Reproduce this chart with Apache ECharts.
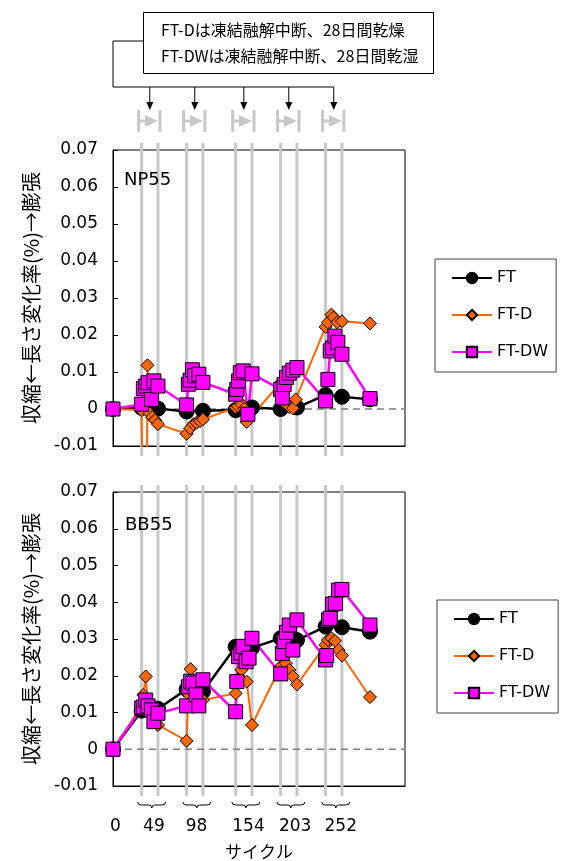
<!DOCTYPE html>
<html>
<head>
<meta charset="utf-8">
<script src="https://cdn.jsdelivr.net/npm/echarts/dist/echarts.min.js"></script>
<style>
  html, body { margin: 0; padding: 0; background: #fff; }
  #main { width: 563px; height: 861px; }
</style>
</head>
<body>
<div id="main"></div>
<script>
// 乾燥期間 (day)
var dryStart = [49, 126, 210, 287, 364];
var dryEnd = [77, 154, 238, 315, 392];

// x軸ラベル
var xLabelDays = [4, 70, 143, 232, 312, 390];
var xLabels = ['0', '49', '98', '154', '203', '252'];

// NP55
var npFT = [[0, 0], [49, 0.0003], [77, 0.0001], [126, -0.0007], [154, -0.0005], [210, -0.0003], [238, 0.0004],
  [287, 0], [315, 0.0004], [364, 0.0038], [392, 0.0033], [440, 0.0026]];
var npFTD = [[0, 0], [49, -0.0003], [56, -0.1], [59, 0.0118], [63, -0.0012], [67, -0.0022], [72, -0.003], [77, -0.0041],
  [126, -0.0067], [132, -0.0052], [138, -0.0041], [143, -0.0037], [149, -0.0033], [154, -0.0028],
  [210, 0.0004], [214, 0.0008], [220, 0.0013], [225, 0.0001], [229, -0.0035],
  [287, 0.0071], [292, 0.0022], [297, 0.0011], [302, 0.0005], [308, 0.0002], [313, 0.0026],
  [364, 0.0222], [368, 0.0234], [374, 0.0255], [378, 0.0247], [384, 0.0234], [392, 0.0237], [440, 0.0231]];
var npFTDW = [[0, 0], [49, 0.0013], [52, 0.0055], [56, 0.0062], [60, 0.0071], [66, 0.0026], [70, 0.0076], [77, 0.0062],
  [126, 0.0011], [129, 0.0067], [132, 0.0078], [136, 0.0106], [140, 0.009], [147, 0.0094], [154, 0.0072],
  [210, 0.004], [212, 0.0053], [215, 0.0076], [218, 0.0098], [223, 0.0103], [231, -0.0014], [238, 0.0095],
  [287, 0.0053], [290, 0.003], [293, 0.0066], [297, 0.0085], [302, 0.0097], [308, 0.0105], [315, 0.0112],
  [364, 0.0022], [368, 0.008], [372, 0.0157], [376, 0.0165], [380, 0.0197], [385, 0.018], [392, 0.0148], [440, 0.0028]];

// BB55
var bbFT = [[0, 0], [49, 0.0105], [77, 0.011], [126, 0.0163], [154, 0.0157], [210, 0.0279], [238, 0.0276],
  [287, 0.0302], [315, 0.0297], [364, 0.0334], [392, 0.0332], [440, 0.032]];
var bbFTD = [[0, 0], [49, 0.0118], [52, 0.0148], [56, 0.0198], [60, 0.012], [66, 0.0105], [72, 0.009], [77, 0.0066],
  [126, 0.0023], [129, 0.015], [133, 0.0218], [138, 0.0175], [143, 0.016], [149, 0.014], [154, 0.0134],
  [210, 0.0152], [214, 0.019], [220, 0.0216], [229, 0.0184], [238, 0.0066],
  [287, 0.0225], [291, 0.0248], [296, 0.0234], [302, 0.0216], [308, 0.0198], [315, 0.0176],
  [364, 0.0284], [368, 0.0297], [374, 0.0302], [380, 0.0295], [386, 0.027], [392, 0.0255], [440, 0.0142]];
var bbFTDW = [[0, 0], [49, 0.0112], [52, 0.0115], [56, 0.0134], [60, 0.0118], [66, 0.0107], [70, 0.0075], [77, 0.0098],
  [126, 0.0118], [129, 0.017], [133, 0.0185], [137, 0.018], [142, 0.0148], [147, 0.0118], [154, 0.0189],
  [210, 0.0102], [212, 0.0184], [215, 0.0252], [219, 0.0262], [223, 0.028], [228, 0.0238], [233, 0.0248], [238, 0.0302],
  [287, 0.0205], [290, 0.0261], [293, 0.0293], [297, 0.0318], [302, 0.0338], [308, 0.027], [315, 0.0352],
  [364, 0.0243], [366, 0.0255], [369, 0.0352], [372, 0.0356], [376, 0.0395], [381, 0.0397], [386, 0.0433], [392, 0.0435], [440, 0.0338]];

var zeroLine = [[0, 0], [500, 0]];

var latin = 'DejaVu Sans';
var jp = '"Noto Sans CJK JP", sans-serif';
var boxLeft = 143;
var gray = '#c8c8c8';

var pairData = dryStart.map(function (s, i) { return [s, dryEnd[i], 0]; });

function renderPairs(isTop) {
  return function (params, api) {
    var cs = params.coordSys;
    var xa = api.coord([api.value(0), 0])[0];
    var xb = api.coord([api.value(1), 0])[0];
    var kids = [
      { type: 'line', shape: { x1: xa, y1: cs.y - 7, x2: xa, y2: cs.y + cs.height + 10 }, style: { stroke: gray, lineWidth: 3 } },
      { type: 'line', shape: { x1: xb, y1: cs.y - 7, x2: xb, y2: cs.y + cs.height + 10 }, style: { stroke: gray, lineWidth: 3 } }
    ];
    var xm = (xa + xb) / 2;
    if (isTop) {
      var yc = cs.y - 29;
      kids.push(
        { type: 'line', shape: { x1: xa - 3, y1: cs.y - 40, x2: xa - 3, y2: cs.y - 18 }, style: { stroke: gray, lineWidth: 3 } },
        { type: 'line', shape: { x1: xb + 2, y1: cs.y - 40, x2: xb + 2, y2: cs.y - 18 }, style: { stroke: gray, lineWidth: 3 } },
        { type: 'line', shape: { x1: xa - 3, y1: yc, x2: xb - 10, y2: yc }, style: { stroke: gray, lineWidth: 3 } },
        { type: 'polygon', shape: { points: [[xb - 13, yc - 6], [xb, yc], [xb - 13, yc + 6]] }, style: { fill: gray } },
        { type: 'line', shape: { x1: xm, y1: cs.y - 63, x2: xm, y2: cs.y - 47 }, style: { stroke: '#000', lineWidth: 1 } },
        { type: 'polygon', shape: { points: [[xm - 3.5, cs.y - 48], [xm + 3.5, cs.y - 48], [xm, cs.y - 40]] }, style: { fill: '#000' } }
      );
      if (params.dataIndex === 0) {
        var last = dryStart.length - 1;
        var xl = api.coord([(dryStart[last] + dryEnd[last]) / 2, 0])[0];
        kids.push({ type: 'polyline', shape: { points: [[boxLeft, 41], [cs.x, 41], [cs.x, cs.y - 63], [xl, cs.y - 63]] },
          style: { stroke: '#000', lineWidth: 1, fill: null } });
      }
    } else {
      // brace under the axis
      var bx = xm + 2, bw = 14, y0 = cs.y + cs.height + 16, y1 = y0 + 3, y2 = y0 + 6;
      kids.push({ type: 'path', shape: { pathData:
        'M' + (bx - bw) + ' ' + y0 + ' Q' + (bx - bw) + ' ' + y1 + ' ' + (bx - bw + 4) + ' ' + y1 +
        ' L' + (bx - 3) + ' ' + y1 + ' Q' + bx + ' ' + y1 + ' ' + bx + ' ' + y2 +
        ' Q' + bx + ' ' + y1 + ' ' + (bx + 3) + ' ' + y1 +
        ' L' + (bx + bw - 4) + ' ' + y1 + ' Q' + (bx + bw) + ' ' + y1 + ' ' + (bx + bw) + ' ' + y0 },
        style: { stroke: '#000', lineWidth: 1, fill: null } });
    }
    return { type: 'group', children: kids };
  };
}

function yAxisOpt(idx) {
  return {
    gridIndex: idx, type: 'value', min: -0.01, max: 0.07, interval: 0.01,
    name: '収縮←長さ変化率(%)→膨張', nameLocation: 'middle', nameGap: 72, nameRotate: 90,
    nameTextStyle: { fontFamily: jp, fontSize: 20, color: '#000' },
    axisLine: { show: true, lineStyle: { color: '#000', width: 1 } },
    axisTick: { show: true, inside: true, length: 5, lineStyle: { color: '#000' } },
    axisLabel: { margin: 15, fontFamily: latin, fontSize: 17, color: '#000',
      formatter: function (v) { return Math.abs(v) < 1e-9 ? '0' : v.toFixed(2); } },
    splitLine: { show: false }
  };
}

function xAxisOpt(idx, showLabel) {
  var o = {
    gridIndex: idx, type: 'value', min: 0, max: 500,
    axisLine: { show: true, onZero: false, lineStyle: { color: '#000', width: 1 } },
    axisTick: { show: false }, splitLine: { show: false },
    axisLabel: { show: false }
  };
  if (showLabel) {
    o.axisLabel = { show: true, customValues: xLabelDays, margin: 32, fontFamily: latin, fontSize: 17, color: '#000',
      formatter: function (v) { var i = xLabelDays.indexOf(v); return i >= 0 ? xLabels[i] : ''; } };
    o.name = 'サイクル';
    o.nameLocation = 'middle';
    o.nameGap = 57;
    o.nameTextStyle = { fontFamily: jp, fontSize: 17, color: '#000' };
  }
  return o;
}

function seriesFor(idx, ft, ftd, ftdw) {
  return [
    { type: 'custom', xAxisIndex: idx, yAxisIndex: idx, data: pairData, encode: { x: [0, 1], y: 2 },
      renderItem: renderPairs(idx === 0), silent: true, z: 1, clip: false },
    { type: 'line', xAxisIndex: idx, yAxisIndex: idx, data: zeroLine, symbol: 'none', silent: true, z: 1,
      lineStyle: { color: '#808080', width: 1.5, type: [7, 5] } },
    { name: 'FT', type: 'line', xAxisIndex: idx, yAxisIndex: idx, data: ft,
      symbol: 'circle', symbolSize: 15, lineStyle: { color: '#000', width: 2.5 },
      itemStyle: { color: '#000', borderColor: '#000', borderWidth: 1 } },
    { name: 'FT-D', type: 'line', xAxisIndex: idx, yAxisIndex: idx, data: ftd,
      symbol: 'diamond', symbolSize: 13, lineStyle: { color: '#ff6600', width: 2 },
      itemStyle: { color: '#ff6600', borderColor: '#000', borderWidth: 1 } },
    { name: 'FT-DW', type: 'line', xAxisIndex: idx, yAxisIndex: idx, data: ftdw,
      symbol: 'rect', symbolSize: 14, lineStyle: { color: '#ff00ff', width: 2.5 },
      itemStyle: { color: '#ff00ff', borderColor: '#000', borderWidth: 1 } }
  ];
}

function legendOpt(left, top) {
  return {
    data: ['FT', 'FT-D', 'FT-DW'], orient: 'vertical', left: left, top: top,
    itemWidth: 40, itemHeight: 13, itemGap: 21, selectedMode: false,
    padding: [11, 8, 12, 16], borderColor: '#444', borderWidth: 1,
    textStyle: { fontFamily: latin, fontSize: 16, color: '#000' }
  };
}

var chart = echarts.init(document.getElementById('main'), null, { renderer: 'canvas' });
chart.setOption({
  animation: false,
  backgroundColor: '#fff',
  title: [
    { text: 'NP55', left: 124, top: 171, padding: 0, textStyle: { fontFamily: latin, fontSize: 18, fontWeight: 'normal', color: '#000' } },
    { text: 'BB55', left: 125, top: 516, padding: 0, textStyle: { fontFamily: latin, fontSize: 18, fontWeight: 'normal', color: '#000' } }
  ],
  grid: [
    { left: 113, top: 150, width: 292, height: 296, show: true, borderColor: '#000', borderWidth: 1, backgroundColor: 'transparent' },
    { left: 113, top: 492, width: 292, height: 294, show: true, borderColor: '#000', borderWidth: 1, backgroundColor: 'transparent' }
  ],
  xAxis: [xAxisOpt(0, false), xAxisOpt(1, true)],
  yAxis: [yAxisOpt(0), yAxisOpt(1)],
  legend: [legendOpt(435, 259), legendOpt(437, 600)],
  graphic: [
    { type: 'rect', left: boxLeft, top: 12, shape: { width: 290, height: 61 }, style: { fill: '#fff', stroke: '#000', lineWidth: 1 }, z: 10 },
    { type: 'text', left: 161, top: 22, style: { text: 'FT-Dは凍結融解中断、28日間乾燥', font: '16px ' + jp, fill: '#000' }, z: 11 },
    { type: 'text', left: 161, top: 48, style: { text: 'FT-DWは凍結融解中断、28日間乾湿', font: '16px ' + jp, fill: '#000' }, z: 11 }
  ],
  series: seriesFor(0, npFT, npFTD, npFTDW).concat(seriesFor(1, bbFT, bbFTD, bbFTDW))
});
</script>
</body>
</html>
